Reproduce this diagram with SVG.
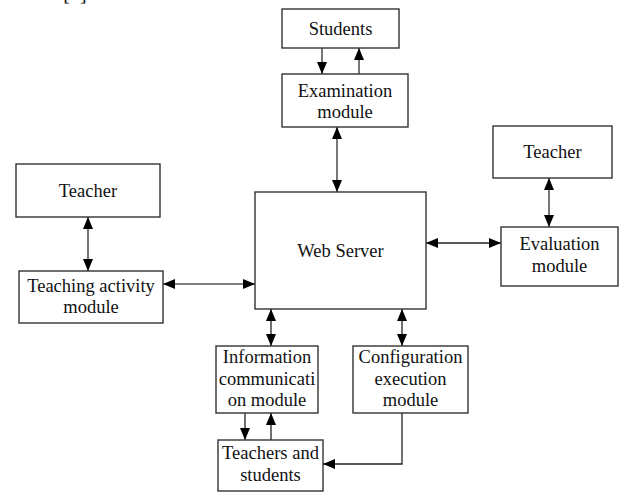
<svg xmlns="http://www.w3.org/2000/svg" width="619" height="492" viewBox="0 0 619 492">
<style>
.box{fill:#fff;stroke:#333;stroke-width:1.4}
.t{font-family:"Liberation Serif","Times New Roman",serif;font-size:18.5px;fill:#111;text-anchor:middle}
.c{fill:none;stroke:#555;stroke-width:1.6}
.c1{fill:none;stroke:#222;stroke-width:1.3}
</style>
<defs>
<marker id="ah" viewBox="0 0 12 10" refX="12" refY="5" markerWidth="12" markerHeight="10" markerUnits="userSpaceOnUse" orient="auto-start-reverse">
<path d="M0,0 L12,5 L0,10 z" fill="#000"/>
</marker>
</defs>
<rect width="619" height="492" fill="#fff"/>
<text class="t" x="75" y="0" style="font-size:20px">[6]</text>
<g id="connectors">
<line class="c" x1="322" y1="48" x2="322" y2="74" marker-end="url(#ah)"/>
<line class="c" x1="359" y1="74" x2="359" y2="48" marker-end="url(#ah)"/>
<line class="c" x1="337" y1="127" x2="337" y2="192" marker-start="url(#ah)" marker-end="url(#ah)"/>
<line class="c" x1="88" y1="217" x2="88" y2="271" marker-start="url(#ah)" marker-end="url(#ah)"/>
<line class="c" x1="163" y1="284" x2="255" y2="284" marker-start="url(#ah)" marker-end="url(#ah)"/>
<line class="c1" x1="426" y1="243" x2="501" y2="243" marker-start="url(#ah)" marker-end="url(#ah)"/>
<line class="c" x1="549" y1="178" x2="549" y2="227" marker-start="url(#ah)" marker-end="url(#ah)"/>
<line class="c1" x1="271" y1="309" x2="271" y2="346" marker-start="url(#ah)" marker-end="url(#ah)"/>
<line class="c1" x1="402" y1="309" x2="402" y2="346" marker-start="url(#ah)" marker-end="url(#ah)"/>
<line class="c1" x1="245" y1="413" x2="245" y2="440" marker-end="url(#ah)"/>
<line class="c1" x1="271" y1="440" x2="271" y2="413" marker-end="url(#ah)"/>
<polyline class="c1" points="402,413 402,464 323,464" marker-end="url(#ah)"/>
</g>
<g id="students">
<rect class="box" x="282" y="9" width="117" height="39"/>
<text class="t" x="340.5" y="35">Students</text>
</g>
<g id="examination">
<rect class="box" x="282" y="74" width="126" height="53"/>
<text class="t" x="345" y="97">Examination</text>
<text class="t" x="345" y="118">module</text>
</g>
<g id="teacher-left">
<rect class="box" x="16" y="164" width="144" height="53"/>
<text class="t" x="88" y="197">Teacher</text>
</g>
<g id="teaching-activity">
<rect class="box" x="19" y="271" width="144" height="52"/>
<text class="t" x="91" y="292">Teaching activity</text>
<text class="t" x="91" y="313">module</text>
</g>
<g id="web-server">
<rect class="box" x="255" y="192" width="171" height="117"/>
<text class="t" x="340.5" y="257">Web Server</text>
</g>
<g id="teacher-right">
<rect class="box" x="493" y="126" width="119" height="52"/>
<text class="t" x="552.5" y="158">Teacher</text>
</g>
<g id="evaluation">
<rect class="box" x="501" y="227" width="117" height="59"/>
<text class="t" x="559.5" y="250">Evaluation</text>
<text class="t" x="559.5" y="272">module</text>
</g>
<g id="information">
<rect class="box" x="216" y="346" width="102" height="67"/>
<text class="t" x="267" y="363">Information</text>
<text class="t" x="267" y="385">communicati</text>
<text class="t" x="267" y="406">on module</text>
</g>
<g id="configuration">
<rect class="box" x="353" y="346" width="115" height="67"/>
<text class="t" x="410.5" y="363">Configuration</text>
<text class="t" x="410.5" y="385">execution</text>
<text class="t" x="410.5" y="406">module</text>
</g>
<g id="teachers-students">
<rect class="box" x="218" y="440" width="105" height="51"/>
<text class="t" x="270.5" y="459">Teachers and</text>
<text class="t" x="270.5" y="481">students</text>
</g>
</svg>
